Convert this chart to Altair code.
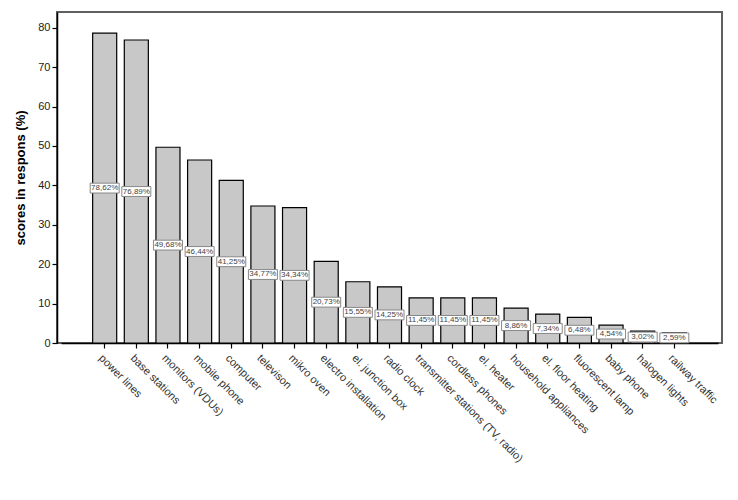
import altair as alt
import pandas as pd

categories = [
    "power lines", "base stations", "monitors (VDUs)", "mobile phone", "computer",
    "televison", "mikro oven", "electro installation", "el. junction box", "radio clock",
    "transmitter stations (TV, radio)", "cordless phones", "el. heater",
    "household appliances", "el. floor heating", "fluorescent lamp", "baby phone",
    "halogen lights", "railway traffic",
]
values = [78.62, 76.89, 49.68, 46.44, 41.25, 34.77, 34.34, 20.73, 15.55, 14.25,
          11.45, 11.45, 11.45, 8.86, 7.34, 6.48, 4.54, 3.02, 2.59]
labels = [f"{v:.2f}%".replace(".", ",") for v in values]

df = pd.DataFrame({"cat": categories, "val": values, "label": labels})
df["mid"] = df["val"] / 2

FONT = "Liberation Sans"

xscale = alt.Scale(paddingInner=0.24, paddingOuter=1, range=[4, 661])

x = alt.X(
    "cat:N", sort=categories, title=None, scale=xscale,
    axis=alt.Axis(labelAngle=45, labelAlign="left", labelBaseline="top",
                  labelFontSize=11, labelColor="#333333", labelFont=FONT,
                  tickSize=5, tickColor="#000000", domainColor="#000000",
                  domainWidth=1.5, tickWidth=1.2,
                  labelPadding=4, labelLimit=300, labelOverlap=False),
)

bars = alt.Chart(df).mark_bar(fill="#c8c8c8", stroke="#000000", strokeWidth=1.2).encode(
    x=x,
    y=alt.Y("val:Q", title="scores in respons (%)",
            scale=alt.Scale(domain=[0, 84], nice=False),
            axis=alt.Axis(values=list(range(0, 81, 10)), grid=False,
                          labelFontSize=11, labelColor="#222222", labelFont=FONT,
                          titleFontSize=13, titleFontWeight="bold", titleFont=FONT,
                          titleColor="#000000", tickSize=5, tickColor="#000000",
                          domainColor="#000000", domainWidth=1.5, tickWidth=1.2,
                          titlePadding=10)),
)

box_shape = "M-1,-0.34 L1,-0.34 L1,0.34 L-1,0.34 Z"
boxes = alt.Chart(df).mark_point(
    shape=box_shape, size=841, filled=True, fill="#ffffff", fillOpacity=1,
    stroke="#888888", strokeWidth=1, opacity=1,
).encode(x=alt.X("cat:N", sort=categories), y="mid:Q")

texts = alt.Chart(df).mark_text(fontSize=8, font=FONT, color="#444444").encode(
    x=alt.X("cat:N", sort=categories), y="mid:Q", text="label:N"
)

chart = (bars + boxes + texts).properties(
    width=665, height=331,
    autosize=alt.AutoSizeParams(type="none"),
    padding={"left": 49, "top": 4, "right": 8, "bottom": 140},
).configure_view(stroke="#606060", strokeWidth=2)

chart.save("out.html", embed_options={"renderer": "svg", "actions": False})
